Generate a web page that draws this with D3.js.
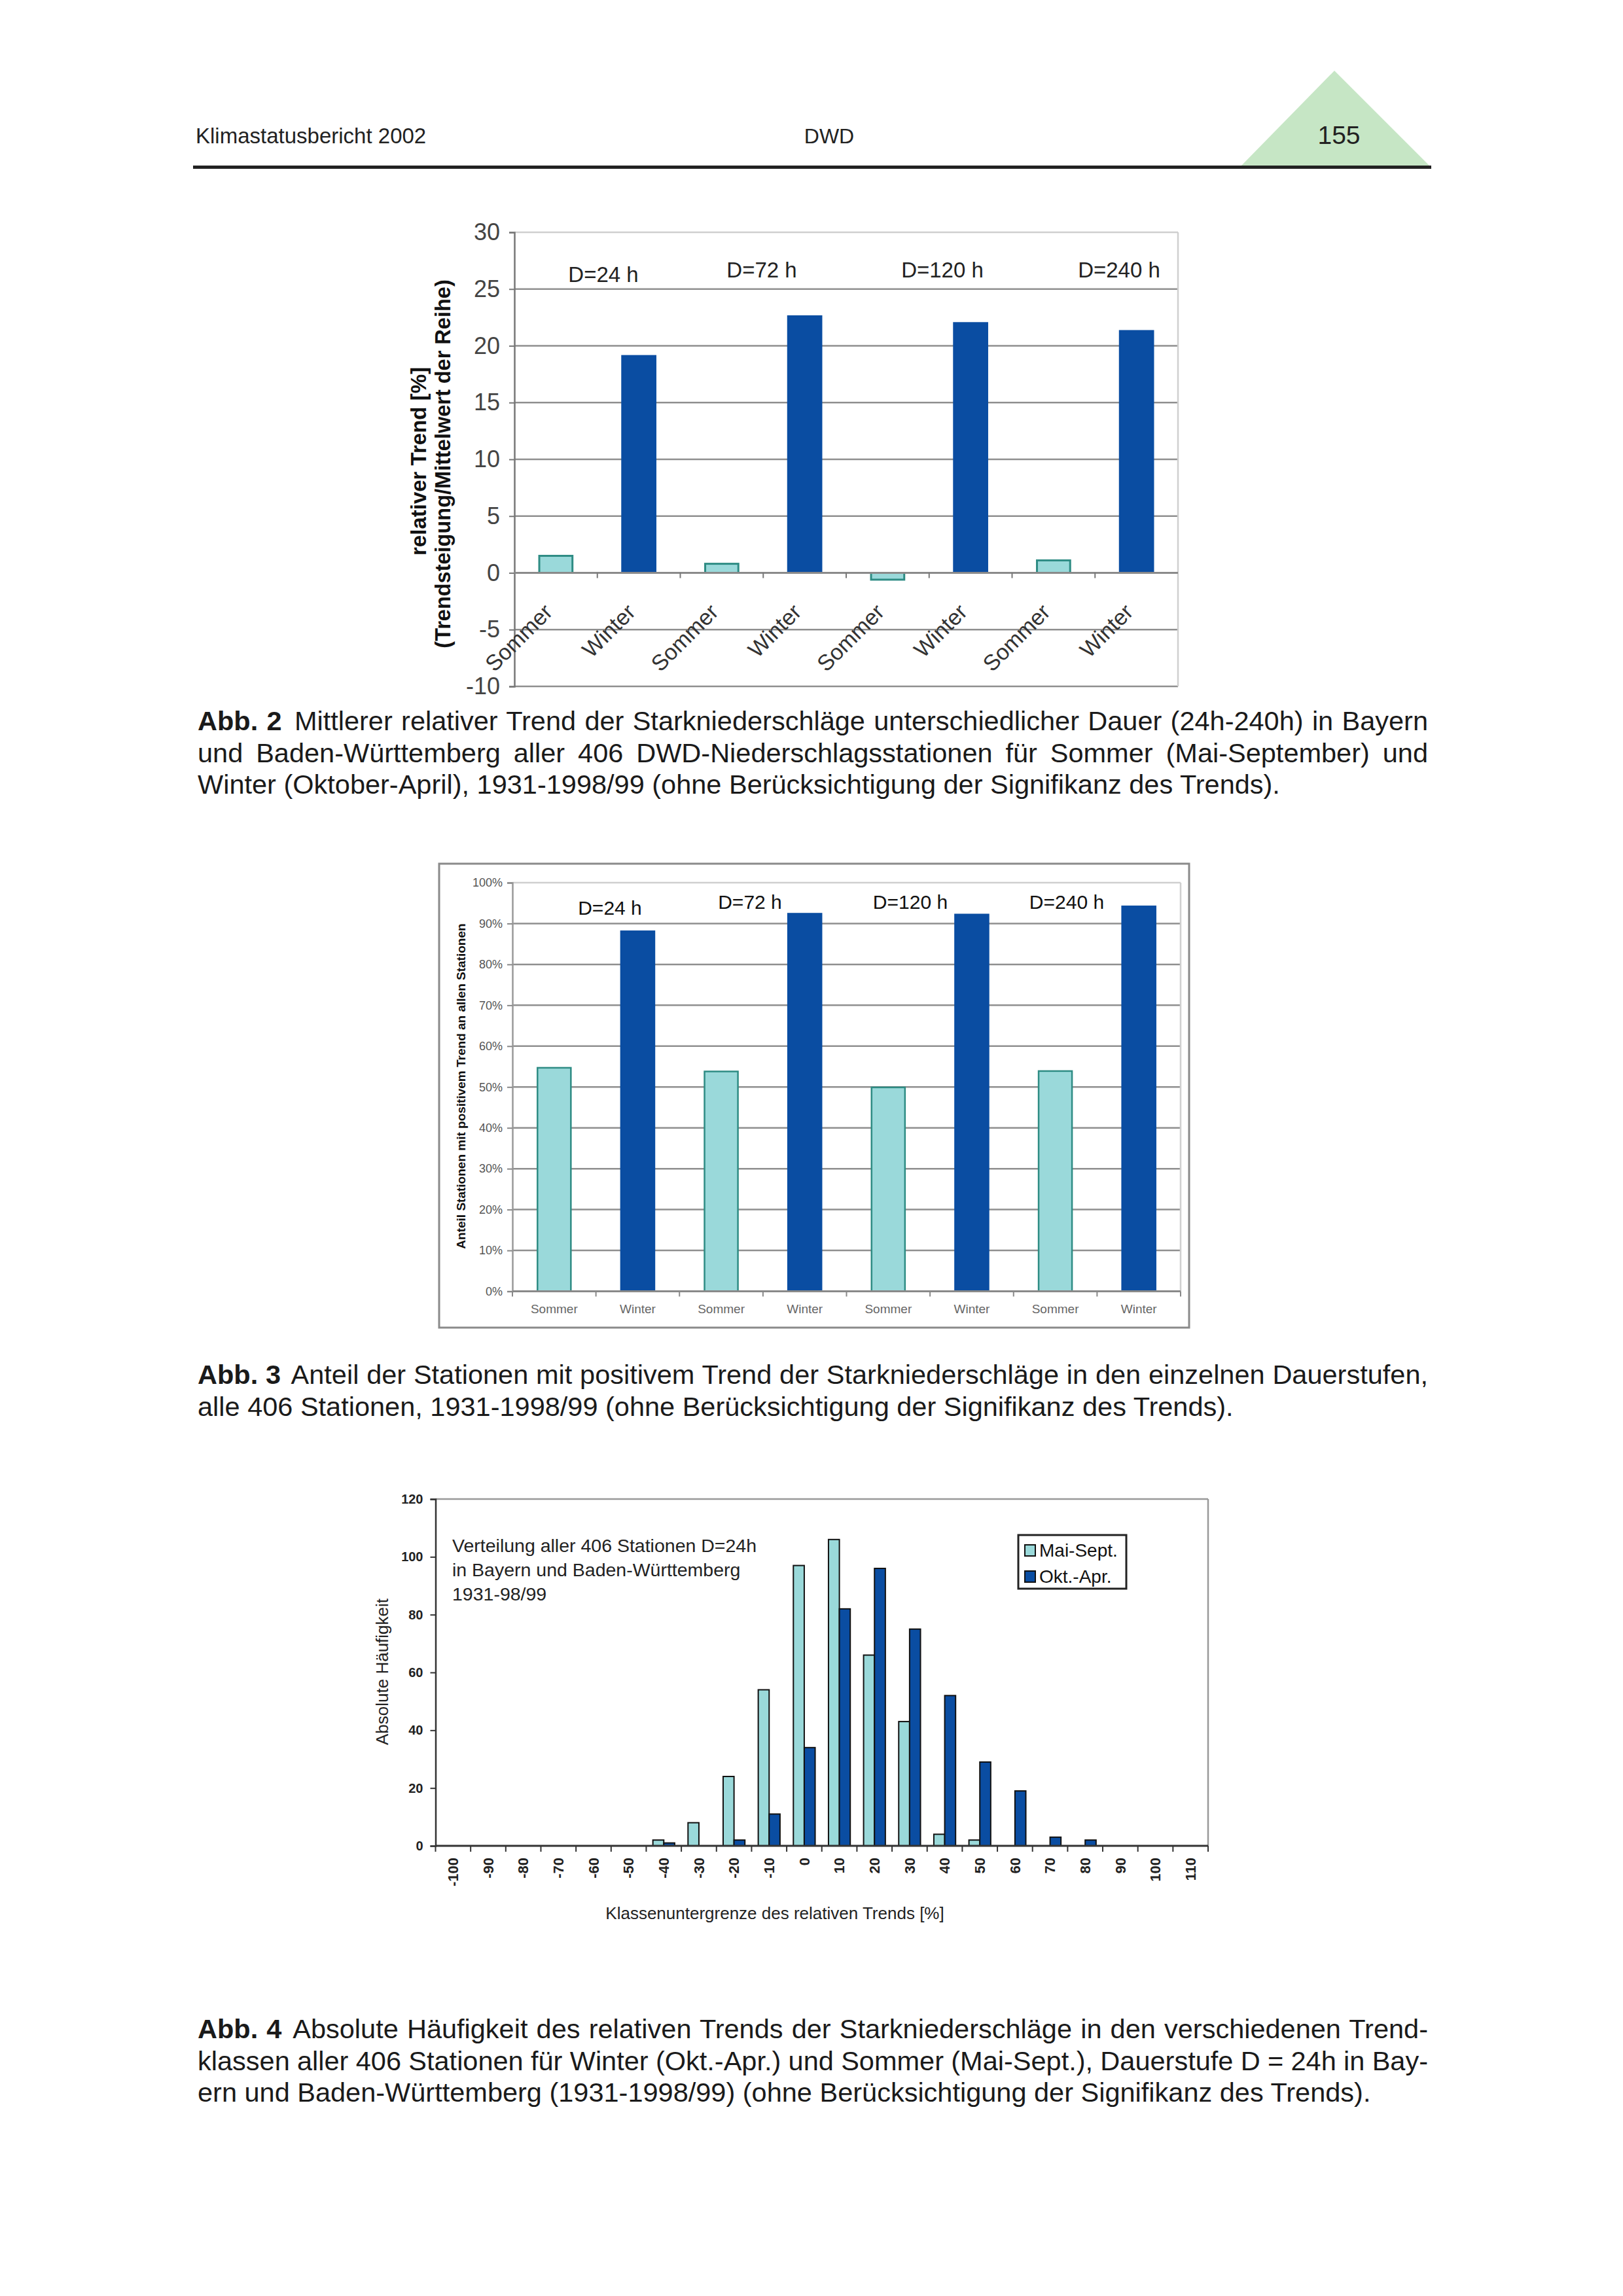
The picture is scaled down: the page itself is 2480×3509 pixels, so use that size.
<!DOCTYPE html>
<html><head><meta charset="utf-8">
<script src="https://cdn.jsdelivr.net/npm/d3@7"></script>
<style>
html,body{margin:0;padding:0;background:#fff;}
svg{display:block;font-family:"Liberation Sans", Arial, Helvetica, sans-serif;}
</style></head><body>
<svg id="page" width="2480" height="3509"></svg>
<script>
// ---------- data ----------
const categories = ["Sommer","Winter","Sommer","Winter","Sommer","Winter","Sommer","Winter"];
const durations = ["D=24 h","D=72 h","D=120 h","D=240 h"];
const trendValues = [1.5, 19.1, 0.8, 22.6, -0.6, 22.0, 1.1, 21.3];
const trendTicks = [-10,-5,0,5,10,15,20,25,30];
const shareValues = [54.7, 88.1, 53.8, 92.4, 49.9, 92.2, 53.9, 94.2];
const shareTicks = [0,10,20,30,40,50,60,70,80,90,100];
const classLabels = ["-100","-90","-80","-70","-60","-50","-40","-30","-20","-10","0","10","20","30","40","50","60","70","80","90","100","110"];
const maiSept = [0,0,0,0,0,0,2,8,24,54,97,106,66,43,4,2,0,0,0,0,0,0];
const oktApr  = [0,0,0,0,0,0,1,0,2,11,34,82,96,75,52,29,19,3,2,0,0,0];
const countTicks = [0,20,40,60,80,100,120];
const seriesNames = ["Mai-Sept.","Okt.-Apr."];

const cLight = "#9AD9DA", cLightStroke = "#2E8C84", cDark = "#0A4DA2";
const FONT = "Liberation Sans, Arial, sans-serif";
const svg = d3.select("#page");
svg.append("rect").attr("width",2480).attr("height",3509).attr("fill","#fff");

// ---------- header ----------
svg.append("text").attr("x",299).attr("y",219).attr("font-size",33).attr("fill","#222").text("Klimastatusbericht 2002");
svg.append("text").attr("x",1267).attr("y",219).attr("font-size",32).attr("fill","#222").attr("text-anchor","middle").text("DWD");
svg.append("polygon").attr("points","2039,108 1895,255 2186,255").attr("fill","#C6E6C5");
svg.append("text").attr("x",2046).attr("y",220).attr("font-size",39).attr("fill","#222").attr("text-anchor","middle").text("155");
svg.append("rect").attr("x",295).attr("y",253).attr("width",1892).attr("height",5).attr("fill","#222");

// ---------- captions ----------
function caption(lines, x, y0, lh, width){
  lines.forEach((ln,i)=>{
    const t = svg.append("text").attr("x",x).attr("y",y0+i*lh).attr("font-size",41.5).attr("fill","#1a1a1a");
    if(ln.bold){ t.append("tspan").attr("font-weight","bold").text(ln.bold); }
    t.append("tspan").attr("dx", ln.bold ? 6 : 0).text(ln.text);
    if(ln.justify){
      const full = (ln.bold||"") + ln.text;
      const n = (full.match(/ /g)||[]).length;
      let ws = 0;
      for(let k=0;k<3;k++){
        const bb = t.node().getBBox();
        const L = bb.x + bb.width - x;
        ws += (width - L)/n;
        t.style("word-spacing", ws + "px");
      }
    }
  });
}
caption([
  {bold:"Abb. 2", text:" Mittlerer relativer Trend der Starkniederschläge unterschiedlicher Dauer (24h-240h) in Bayern", justify:true},
  {text:"und Baden-Württemberg aller 406 DWD-Niederschlagsstationen für Sommer (Mai-September) und", justify:true},
  {text:"Winter (Oktober-April), 1931-1998/99 (ohne Berücksichtigung der Signifikanz des Trends)."}
], 302, 1116, 48.5, 1880);
caption([
  {bold:"Abb. 3", text:" Anteil der Stationen mit positivem Trend der Starkniederschläge in den einzelnen Dauerstufen,", justify:true},
  {text:"alle 406 Stationen, 1931-1998/99 (ohne Berücksichtigung der Signifikanz des Trends)."}
], 302, 2115, 48.5, 1880);
caption([
  {bold:"Abb. 4", text:" Absolute Häufigkeit des relativen Trends der Starkniederschläge in den verschiedenen Trend-", justify:true},
  {text:"klassen aller 406 Stationen für Winter (Okt.-Apr.) und Sommer (Mai-Sept.), Dauerstufe D = 24h in Bay-", justify:true},
  {text:"ern und Baden-Württemberg (1931-1998/99) (ohne Berücksichtigung der Signifikanz des Trends)."}
], 302, 3115, 48.5, 1880);

// ---------- chart 1 ----------
(function(){
  const L=786, R=1800, T=355, B=1049;
  const g = svg.append("g");
  const x = d3.scaleBand().domain(d3.range(categories.length)).range([L,R]).paddingInner(0.6).paddingOuter(0.3);
  const y = d3.scaleLinear().domain([-10,30]).range([B,T]);
  trendTicks.forEach(v=>{
    g.append("line").attr("x1",L).attr("x2",R).attr("y1",y(v)).attr("y2",y(v))
      .attr("stroke", v===30 ? "#cfcfcf" : "#8f8f8f").attr("stroke-width",2.5);
  });
  g.append("line").attr("x1",R).attr("x2",R).attr("y1",T).attr("y2",B).attr("stroke","#cfcfcf").attr("stroke-width",2.5);
  const ya = g.append("g").attr("transform",`translate(${L},0)`).call(d3.axisLeft(y).tickValues(trendTicks).tickFormat(d=>String(d)).tickSize(8).tickPadding(14));
  ya.select(".domain").attr("stroke","#777").attr("stroke-width",2.5);
  ya.selectAll(".tick line").attr("stroke","#777").attr("stroke-width",2);
  ya.selectAll("text").attr("font-size",36).attr("fill","#444").attr("font-family",FONT);
  g.selectAll("rect.bar").data(trendValues).join("rect")
    .attr("x",(d,i)=>x(i)).attr("width",x.bandwidth())
    .attr("y",d=>y(Math.max(0,d))).attr("height",d=>Math.abs(y(d)-y(0)))
    .attr("fill",(d,i)=>i%2===0?cLight:cDark)
    .attr("stroke",(d,i)=>i%2===0?cLightStroke:cDark).attr("stroke-width",3);
  const half = (x.step()-x.bandwidth())/2;
  g.append("line").attr("x1",L).attr("x2",R).attr("y1",y(0)).attr("y2",y(0)).attr("stroke","#8a8a8a").attr("stroke-width",3);
  d3.range(1,categories.length).forEach(i=>{
    g.append("line").attr("x1",x(i)-half).attr("x2",x(i)-half).attr("y1",y(0)).attr("y2",y(0)+8).attr("stroke","#777").attr("stroke-width",2);
  });
  const xa = g.append("g").attr("transform",`translate(0,${y(0)})`).call(d3.axisBottom(x).tickFormat(i=>categories[i]).tickSize(0));
  xa.select(".domain").remove();
  xa.selectAll("text").attr("font-size",34).attr("fill","#333").attr("font-family",FONT)
    .attr("x",0).attr("y",0).attr("dy",0).attr("text-anchor","end").attr("transform","translate(-3,62) rotate(-45)");
  const dPos = [[922,431],[1164,424],[1440,424],[1710,424]];
  durations.forEach((d,i)=>g.append("text").attr("x",dPos[i][0]).attr("y",dPos[i][1]).attr("text-anchor","middle").attr("font-size",33).attr("fill","#222").text(d));
  g.append("text").attr("transform","translate(651,705) rotate(-90)").attr("text-anchor","middle").attr("font-size",33).attr("font-weight","bold").attr("fill","#111").text("relativer Trend [%]");
  g.append("text").attr("transform","translate(688,709) rotate(-90)").attr("text-anchor","middle").attr("font-size",32.5).attr("font-weight","bold").attr("fill","#111").text("(Trendsteigung/Mittelwert der Reihe)");
})();

// ---------- chart 2 ----------
(function(){
  const L=783, R=1804, T=1349, B=1973.5;
  const g = svg.append("g");
  g.append("rect").attr("x",671).attr("y",1320).attr("width",1146).attr("height",709).attr("fill","none").attr("stroke","#8a8a8a").attr("stroke-width",3);
  const x = d3.scaleBand().domain(d3.range(categories.length)).range([L,R]).paddingInner(0.6).paddingOuter(0.3);
  const y = d3.scaleLinear().domain([0,100]).range([B,T]);
  shareTicks.forEach(v=>{
    if(v===0) return;
    g.append("line").attr("x1",L).attr("x2",R).attr("y1",y(v)).attr("y2",y(v))
      .attr("stroke", v===100 ? "#cfcfcf" : "#8f8f8f").attr("stroke-width",2.5);
  });
  g.append("line").attr("x1",R).attr("x2",R).attr("y1",T).attr("y2",B).attr("stroke","#cfcfcf").attr("stroke-width",2.5);
  const ya = g.append("g").attr("transform",`translate(${L},0)`).call(d3.axisLeft(y).tickValues(shareTicks).tickFormat(d=>d+"%").tickSize(8).tickPadding(7));
  ya.select(".domain").attr("stroke","#999").attr("stroke-width",2.5);
  ya.selectAll(".tick line").attr("stroke","#888").attr("stroke-width",2);
  ya.selectAll("text").attr("font-size",18).attr("fill","#555").attr("font-family",FONT);
  g.selectAll("rect.bar").data(shareValues).join("rect")
    .attr("x",(d,i)=>x(i)).attr("width",x.bandwidth())
    .attr("y",d=>y(d)).attr("height",d=>y(0)-y(d))
    .attr("fill",(d,i)=>i%2===0?cLight:cDark)
    .attr("stroke",(d,i)=>i%2===0?cLightStroke:cDark).attr("stroke-width",2.5);
  const half = (x.step()-x.bandwidth())/2;
  g.append("line").attr("x1",L).attr("x2",R).attr("y1",y(0)).attr("y2",y(0)).attr("stroke","#8a8a8a").attr("stroke-width",3);
  d3.range(0,categories.length+1).forEach(i=>{
    const xx = i<categories.length ? x(i)-half : R;
    g.append("line").attr("x1",xx).attr("x2",xx).attr("y1",y(0)).attr("y2",y(0)+8).attr("stroke","#888").attr("stroke-width",2);
  });
  const xa = g.append("g").attr("transform",`translate(0,${y(0)})`).call(d3.axisBottom(x).tickFormat(i=>categories[i]).tickSize(0).tickPadding(20));
  xa.select(".domain").remove();
  xa.selectAll("text").attr("font-size",19).attr("fill","#666").attr("font-family",FONT);
  const dPos = [[932,1398],[1146,1389],[1391,1389],[1630,1389]];
  durations.forEach((d,i)=>g.append("text").attr("x",dPos[i][0]).attr("y",dPos[i][1]).attr("text-anchor","middle").attr("font-size",30).attr("fill","#111").text(d));
  g.append("text").attr("transform","translate(704,1660) rotate(-90)").attr("dy","0.35em").attr("text-anchor","middle").attr("font-size",19).attr("font-weight","bold").attr("fill","#111").text("Anteil Stationen mit positivem Trend an allen Stationen");
})();

// ---------- chart 3 ----------
(function(){
  const L=665.5, R=1846, T=2291, B=2821;
  const g = svg.append("g");
  const x = d3.scaleBand().domain(classLabels).range([L,R]).paddingInner(0.38).paddingOuter(0.19);
  const xs = d3.scaleBand().domain([0,1]).range([0,x.bandwidth()]);
  const y = d3.scaleLinear().domain([0,120]).range([B,T]);
  g.append("line").attr("x1",L).attr("x2",R).attr("y1",T).attr("y2",T).attr("stroke","#999").attr("stroke-width",2.5);
  g.append("line").attr("x1",R).attr("x2",R).attr("y1",T).attr("y2",B).attr("stroke","#999").attr("stroke-width",2.5);
  const series = [maiSept, oktApr];
  series.forEach((arr,si)=>{
    g.selectAll("rect.s"+si).data(arr.map((v,i)=>({v,c:classLabels[i]})).filter(d=>d.v>0)).join("rect")
      .attr("x",d=>x(d.c)+xs(si)).attr("width",xs.bandwidth())
      .attr("y",d=>y(d.v)).attr("height",d=>y(0)-y(d.v))
      .attr("fill",si===0?cLight:cDark).attr("stroke","#111").attr("stroke-width",2);
  });
  const ya = g.append("g").attr("transform",`translate(${L},0)`).call(d3.axisLeft(y).tickValues(countTicks).tickSize(8).tickPadding(11));
  ya.select(".domain").attr("stroke","#333").attr("stroke-width",2.5);
  ya.selectAll(".tick line").attr("stroke","#333").attr("stroke-width",2);
  ya.selectAll("text").attr("font-size",20).attr("font-weight","bold").attr("fill","#222").attr("font-family",FONT);
  const half = (x.step()-x.bandwidth())/2;
  g.append("line").attr("x1",L).attr("x2",R).attr("y1",B).attr("y2",B).attr("stroke","#333").attr("stroke-width",3);
  classLabels.concat([null]).forEach((c,i)=>{
    const xx = c!==null ? x(c)-half : R;
    g.append("line").attr("x1",xx).attr("x2",xx).attr("y1",B).attr("y2",B+9).attr("stroke","#333").attr("stroke-width",2);
  });
  const xa = g.append("g").attr("transform",`translate(0,${B})`).call(d3.axisBottom(x).tickSize(0));
  xa.select(".domain").remove();
  xa.selectAll("text").attr("font-size",22).attr("font-weight","bold").attr("fill","#222").attr("font-family",FONT)
    .attr("x",0).attr("y",0).attr("dy","0.35em").attr("text-anchor","end").attr("transform","translate(0,18) rotate(-90)");
  g.append("text").attr("x",1184).attr("y",2933).attr("text-anchor","middle").attr("font-size",26).attr("fill","#222").text("Klassenuntergrenze des relativen Trends [%]");
  g.append("text").attr("transform","translate(584,2555) rotate(-90)").attr("dy","0.35em").attr("text-anchor","middle").attr("font-size",26).attr("fill","#222").text("Absolute Häufigkeit");
  const ann = ["Verteilung aller 406 Stationen D=24h","in Bayern und Baden-Württemberg","1931-98/99"];
  ann.forEach((t,i)=>g.append("text").attr("x",691).attr("y",2372+i*37).attr("font-size",28.5).attr("fill","#222").text(t));
  g.append("rect").attr("x",1556).attr("y",2346).attr("width",165).attr("height",82).attr("fill","#fff").attr("stroke","#222").attr("stroke-width",3);
  seriesNames.forEach((n,i)=>{
    g.append("rect").attr("x",1566).attr("y",2361+i*40).attr("width",16).attr("height",17).attr("fill",i===0?cLight:cDark).attr("stroke","#111").attr("stroke-width",2);
    g.append("text").attr("x",1588).attr("y",2379+i*40).attr("font-size",28).attr("fill","#111").text(n);
  });
})();
</script>
</body></html>
